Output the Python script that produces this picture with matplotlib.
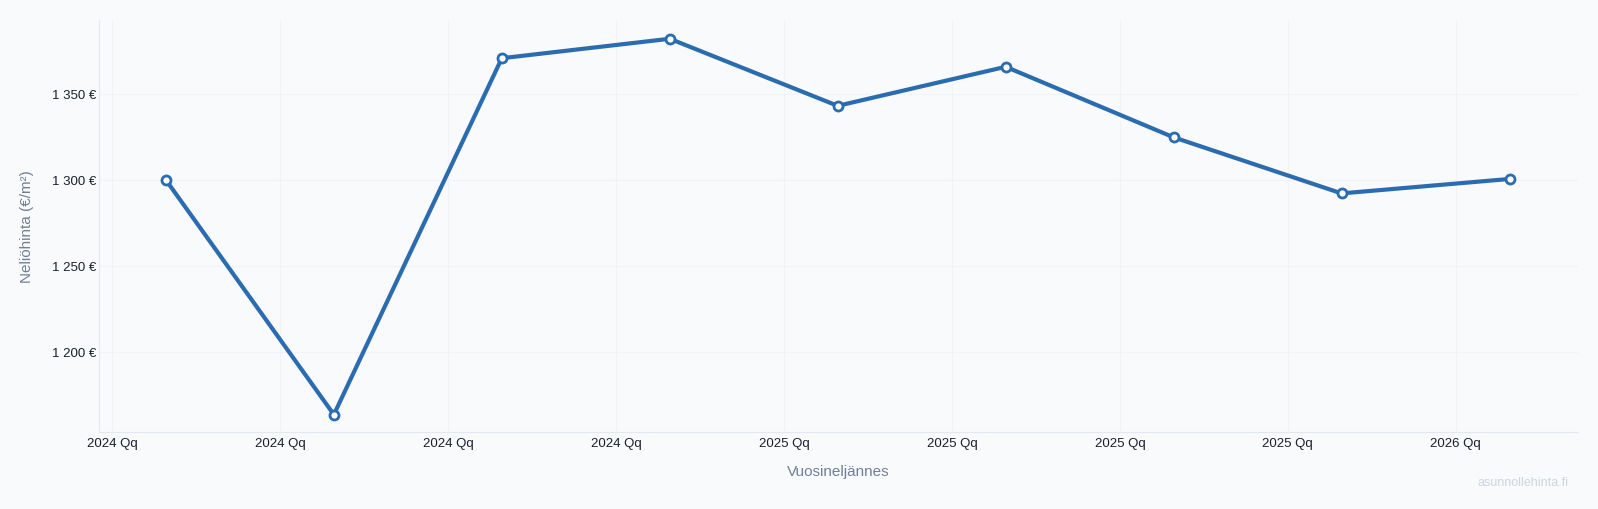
import matplotlib
matplotlib.use("Agg")
import matplotlib.pyplot as plt
from matplotlib.ticker import FuncFormatter

plt.rcParams['font.family'] = ['Liberation Sans', 'DejaVu Sans']

# quarter tick labels (as shown in the source chart)
tick_labels = ['2024 Qq', '2024 Qq', '2024 Qq', '2024 Qq',
               '2025 Qq', '2025 Qq', '2025 Qq', '2025 Qq', '2026 Qq']
# price per square metre per quarter
prices = [1300.2, 1163.8, 1371.0, 1382.3, 1343.3, 1366.0, 1325.0, 1292.4, 1300.8]

LINE = '#2b6cb0'
BG = '#f8fafc'

fig = plt.figure(figsize=(15.98, 5.09), dpi=100, facecolor=BG)
ax = fig.add_axes([0.0619, 0.1513, 0.9254, 0.8087], facecolor=BG)

xs = [i + 0.32 for i in range(len(prices))]
ax.plot(xs, prices, color=LINE, lw=3, marker='o', ms=6.5,
        mfc='white', mec=LINE, mew=2, zorder=3)

ax.set_xticks(range(len(tick_labels)))
ax.set_xticklabels(tick_labels)
ax.set_xlim(-0.079, 8.726)
ax.set_ylim(1153.7, 1393)
ax.set_yticks([1200, 1250, 1300, 1350])
ax.yaxis.set_major_formatter(FuncFormatter(lambda v, p: f"{int(v):,} €".replace(',', ' ')))

ax.grid(True, color='#f1f3f6', lw=0.8)
ax.set_axisbelow(True)
for s in ['top', 'right']:
    ax.spines[s].set_visible(False)
for s in ['left', 'bottom']:
    ax.spines[s].set_color('#e2e8f0')
ax.tick_params(axis='x', length=0, labelsize=9.5, labelcolor='#1a202c', pad=4)
ax.tick_params(axis='y', length=0, labelsize=9.5, labelcolor='#1a202c', pad=2)

ax.set_xlabel('Vuosineljännes', fontsize=11, color='#718096', labelpad=11)
ax.set_ylabel('Neliöhinta (€/m²)', fontsize=11, color='#718096', labelpad=13)

fig.text(0.953, 0.052, 'asunnollehinta.fi', fontsize=9, color='#cbd5e0', ha='center', va='center')

fig.savefig('out.png', dpi=100, facecolor=BG)
